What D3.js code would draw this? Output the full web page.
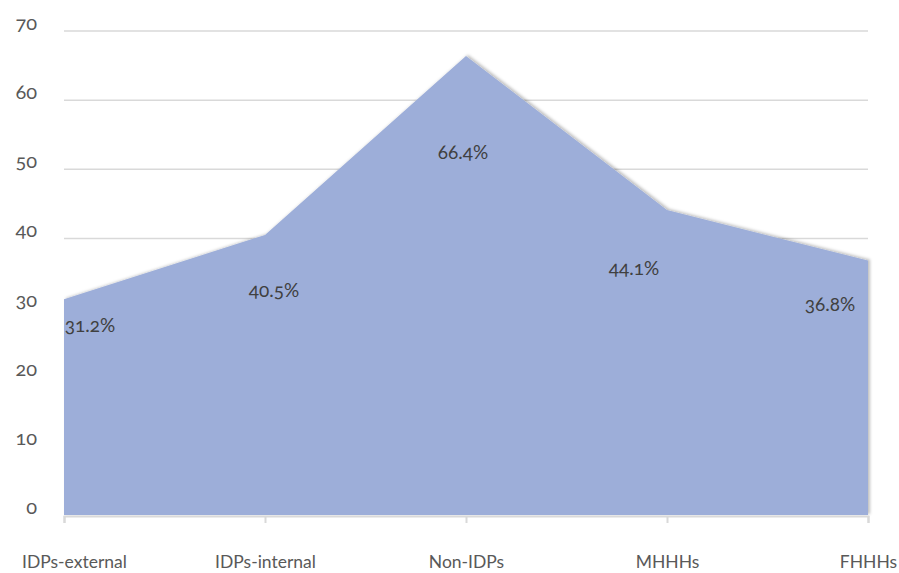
<!DOCTYPE html>
<html lang="en">
<head>
<meta charset="UTF-8">
<title>Area chart</title>
<style>
  body { margin: 0; background: #fff; }
  svg text { font-family: Lato, "Open Sans", sans-serif; font-variant-numeric: oldstyle-nums; font-feature-settings: "onum" 1; }
</style>
</head>
<body>
<svg width="899" height="573"></svg>
<script src="https://d3js.org/d3.v7.min.js"></script>
<script>
var categories = ["IDPs-external", "IDPs-internal", "Non-IDPs", "MHHHs", "FHHHs"];
var values = [31.2, 40.5, 66.4, 44.1, 36.8];
var labels = ["31.2%", "40.5%", "66.4%", "44.1%", "36.8%"];
var yTicks = [0, 10, 20, 30, 40, 50, 60, 70];
// where Excel happened to put the data labels (value units)
var labelLevels = [27.5, 32.5, 52.4, 35.7, 30.5];
var labelShift = [26, 9, -3, -33, -38];

var svg = d3.select("svg"),
    margin = {top: 31, right: 31, bottom: 58, left: 64},
    width = +svg.attr("width") - margin.left - margin.right,
    height = +svg.attr("height") - margin.top - margin.bottom,
    g = svg.append("g").attr("transform", "translate(" + margin.left + "," + margin.top + ")");

var x = d3.scalePoint().domain(categories).range([0, width]);
var y = d3.scaleLinear().domain([0, 70]).range([height, 0]);

var defs = svg.append("defs");
var f = defs.append("filter").attr("id", "shadow").attr("x", "-5%").attr("y", "-5%").attr("width", "110%").attr("height", "110%");
f.append("feDropShadow").attr("dx", 2).attr("dy", -1).attr("stdDeviation", 1.5)
  .attr("flood-color", "#000").attr("flood-opacity", 0.25);

// gridlines
g.append("g").selectAll("line").data(yTicks.slice(1)).enter().append("line")
  .attr("x1", 0).attr("x2", width)
  .attr("y1", function(d) { return y(d); }).attr("y2", function(d) { return y(d); })
  .attr("stroke", "#d9d9d9").attr("stroke-width", 1.5);

// area
var area = d3.area()
  .x(function(d, i) { return x(categories[i]); })
  .y0(y(0))
  .y1(function(d) { return y(d); });

g.append("path").datum(values)
  .attr("d", area)
  .attr("fill", "#9daed9")
  .attr("filter", "url(#shadow)");

// bottom axis
var xAxis = g.append("g").attr("transform", "translate(0," + (height + 1) + ")")
  .call(d3.axisBottom(x).tickSize(7).tickPadding(33));
xAxis.select(".domain").attr("stroke", "#d9d9d9").attr("stroke-width", 2);
xAxis.selectAll(".tick line").attr("stroke", "#d9d9d9").attr("stroke-width", 2);
xAxis.selectAll(".tick text").attr("fill", "#595959").attr("font-size", 17.5);
xAxis.selectAll(".tick text").each(function() {
  var node = this, w = node.getComputedTextLength();
  var t = d3.select(node.parentNode).attr("transform");
  var cx = +t.match(/translate\(([^,]+)/)[1];
  var left = cx - w / 2;
  if (left < -42) d3.select(node).attr("x", -42 - left);
});

// left tick labels
g.append("g").selectAll("text").data(yTicks).enter().append("text")
  .attr("x", -27).attr("y", function(d) { return y(d); }).attr("dy", "-0.05em")
  .attr("text-anchor", "end").attr("fill", "#595959").attr("font-size", 20)
  .text(function(d) { return d; });

// data labels
g.append("g").selectAll("text").data(values).enter().append("text")
  .attr("x", function(d, i) { return x(categories[i]) + labelShift[i]; })
  .attr("y", function(d, i) { return y(labelLevels[i]); })
  .attr("dy", "0.35em")
  .attr("text-anchor", "middle").attr("fill", "#404040").attr("font-size", 19)
  .text(function(d, i) { return labels[i]; });
</script>
</body>
</html>
